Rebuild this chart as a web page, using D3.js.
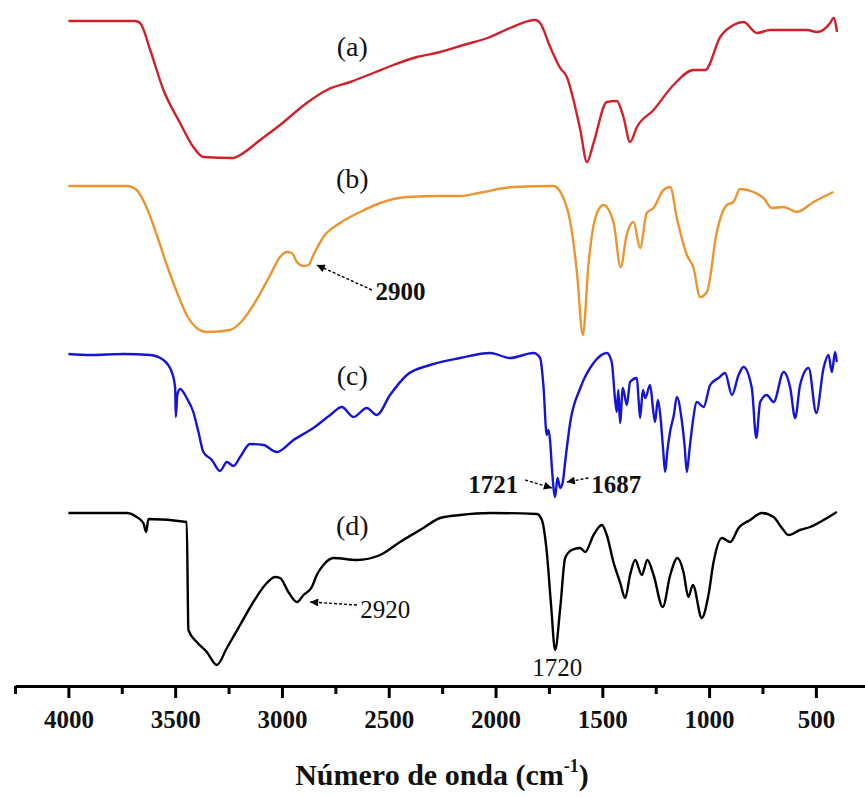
<!DOCTYPE html>
<html>
<head>
<meta charset="utf-8">
<script src="https://cdn.jsdelivr.net/npm/d3@7"></script>
<style>
  html, body { margin: 0; padding: 0; background: #fff; }
  svg { display: block; }
  text { font-family: "Liberation Serif", "Times New Roman", serif; }
</style>
</head>
<body>
<svg id="chart" width="865" height="797"></svg>
<script>
// ---- Data: [wavenumber (cm-1), transmittance (a.u., stacked offsets)] ----
const seriesA = [[4000,679],[3688,679],[3664,677],[3617,650],[3555,610],[3477,577],[3415,553],[3368,543],[3227,542],[3196,545],[3102,560],[3009,575],[2884,597],[2790,610],[2681,618],[2572,627],[2478,635],[2368,643],[2259,648],[2150,655],[2025,663],[1932,672],[1814,680],[1791,677],[1744,653],[1697,632],[1666,623],[1635,600],[1603,570],[1572,538],[1541,557],[1479,598],[1432,599],[1401,583],[1370,558],[1338,573],[1260,590],[1167,615],[1073,630],[1018,630],[948,663],[886,675],[839,678],[776,667],[714,670],[542,670],[495,668],[433,677],[417,682],[401,668]];

const seriesB = [[4000,514],[3727,514],[3680,510],[3633,492],[3586,465],[3539,435],[3492,408],[3446,385],[3399,372],[3352,368],[3243,370],[3196,377],[3134,395],[3055,425],[3009,443],[2977,448],[2954,447],[2930,438],[2899,434],[2876,435],[2853,445],[2806,463],[2728,477],[2634,488],[2540,497],[2415,503],[2259,504],[2166,504],[2057,508],[1916,513],[1729,514],[1682,502],[1650,478],[1619,428],[1591,365],[1565,435],[1533,482],[1495,495],[1448,478],[1414,433],[1386,465],[1354,478],[1323,452],[1292,487],[1260,492],[1214,510],[1182,513],[1151,482],[1104,445],[1073,432],[1042,403],[1010,408],[964,468],[917,495],[886,498],[855,511],[792,508],[745,502],[706,492],[652,493],[589,488],[511,498],[418,508]];

const seriesC = [[4000,346],[3898,345],[3742,346],[3617,345],[3555,340],[3516,328],[3500,312],[3497,283],[3490,305],[3477,311],[3446,302],[3415,288],[3391,268],[3368,248],[3328,240],[3290,229],[3258,238],[3227,234],[3196,243],[3149,256],[3087,255],[3024,248],[2946,260],[2853,272],[2774,285],[2720,293],[2665,283],[2603,292],[2556,285],[2494,305],[2415,325],[2306,335],[2166,342],[2025,347],[1932,342],[1822,347],[1791,342],[1776,315],[1760,265],[1752,270],[1744,258],[1736,232],[1721,203],[1710,222],[1697,212],[1685,218],[1674,238],[1650,278],[1603,312],[1541,337],[1479,347],[1456,338],[1440,300],[1432,288],[1425,310],[1417,277],[1404,312],[1385,295],[1370,318],[1338,322],[1330,300],[1323,282],[1310,310],[1299,302],[1276,315],[1262,290],[1253,278],[1240,300],[1230,288],[1215,250],[1206,228],[1195,250],[1183,268],[1165,285],[1151,303],[1127,278],[1115,255],[1104,228],[1092,250],[1080,272],[1057,298],[1026,293],[995,315],[956,322],[925,327],[893,305],[862,325],[839,333],[800,312],[779,262],[761,298],[730,305],[698,298],[651,328],[620,312],[597,282],[574,315],[534,332],[498,287],[464,332],[441,345],[425,328],[410,348],[402,338]];

const seriesD = [[4000,187],[3727,187],[3680,183],[3649,177],[3636,168],[3625,181],[3446,178],[3438,70],[3399,58],[3352,48],[3305,35],[3258,52],[3196,75],[3134,98],[3071,117],[3032,123],[3009,122],[2970,108],[2930,98],[2899,105],[2860,113],[2837,125],[2806,135],[2759,142],[2649,140],[2540,145],[2447,158],[2338,172],[2259,182],[2166,185],[2025,187],[1806,186],[1783,180],[1760,148],[1740,95],[1721,50],[1697,92],[1674,142],[1643,150],[1604,152],[1580,148],[1541,165],[1502,175],[1479,165],[1448,138],[1416,117],[1393,102],[1370,125],[1346,140],[1315,125],[1289,140],[1260,125],[1217,93],[1182,125],[1148,142],[1120,128],[1097,103],[1076,115],[1034,82],[1003,105],[979,138],[940,162],[901,158],[862,172],[808,180],[753,187],[698,183],[659,172],[628,165],[574,170],[527,173],[480,178],[402,188]];

const seriesNames = ["(a)", "(b)", "(c)", "(d)"];
const seriesColors = ["#d0202a", "#ec9430", "#1515d4", "#000000"];
const majorTicks = [4000, 3500, 3000, 2500, 2000, 1500, 1000, 500];
const minorTicks = [4250, 3750, 3250, 2750, 2250, 1750, 1250, 750];
const xTitle = "Número de onda (cm";
// series label anchor [wavenumber, value]
const labelPos = [[2671, 644], [2671, 512], [2671, 315], [2671, 165]];
// peak annotations: text, text pos, bold, arrow tail, arrow tip
const annotations = [
  { text: "2900", at: [2445, 400], bold: true,  tail: [2579, 410], tip: [2837, 435] },
  { text: "2920", at: [2634, 82],  bold: false, tail: [2649, 95],  tip: [2868, 98], anchor: "start" },
  { text: "1721", at: [2011, 207], bold: true,  tail: [1861, 220], tip: [1736, 212] },
  { text: "1687", at: [1435, 207], bold: true,  tail: [1565, 222], tip: [1666, 218] },
  { text: "1720", at: [1711, 24],  bold: false, tail: null, tip: null }
];

// ---- Drawing ----
const svg = d3.select("#chart");
const x = d3.scaleLinear().domain([4250, 270]).range([15, 865]);
const y = d3.scaleLinear().domain([0, 700]).range([700, 0]);
const axisY = 686;

svg.append("defs").append("marker")
  .attr("id", "arrow").attr("viewBox", "0 0 10 10")
  .attr("refX", 10).attr("refY", 5)
  .attr("markerUnits", "userSpaceOnUse")
  .attr("markerWidth", 11).attr("markerHeight", 8)
  .attr("orient", "auto")
  .append("path").attr("d", "M0,0 L10,5 L0,10 Z").attr("fill", "#000");

const line = d3.line()
  .x(d => x(d[0])).y(d => y(d[1]))
  .curve(d3.curveMonotoneX);

[seriesA, seriesB, seriesC, seriesD].forEach((s, i) => {
  svg.append("path")
    .datum(s)
    .attr("fill", "none")
    .attr("stroke", seriesColors[i])
    .attr("stroke-width", 2.4)
    .attr("stroke-linejoin", "round")
    .attr("d", line);
});

// series labels
seriesNames.forEach((n, i) => {
  svg.append("text")
    .attr("x", x(labelPos[i][0])).attr("y", y(labelPos[i][1]))
    .attr("text-anchor", "middle")
    .attr("font-size", 28)
    .attr("fill", "#111")
    .text(n);
});

// annotations
annotations.forEach(a => {
  if (a.tail) {
    svg.append("line")
      .attr("x1", x(a.tail[0])).attr("y1", y(a.tail[1]))
      .attr("x2", x(a.tip[0])).attr("y2", y(a.tip[1]))
      .attr("stroke", "#000").attr("stroke-width", 1.4)
      .attr("stroke-dasharray", "3,2")
      .attr("marker-end", "url(#arrow)");
  }
  svg.append("text")
    .attr("x", x(a.at[0])).attr("y", y(a.at[1]))
    .attr("text-anchor", a.anchor || "middle")
    .attr("font-size", 25)
    .attr("font-weight", a.bold ? "bold" : "normal")
    .attr("fill", "#111")
    .text(a.text);
});

// x axis
const axis = d3.axisBottom(x)
  .tickValues(majorTicks)
  .tickSize(12)
  .tickSizeOuter(0)
  .tickPadding(12)
  .tickFormat(d3.format("d"));
const gx = svg.append("g").attr("transform", `translate(0,${axisY})`).call(axis);
gx.select(".domain").attr("stroke", "#000").attr("stroke-width", 3);
gx.selectAll(".tick line").attr("stroke", "#000").attr("stroke-width", 3);
gx.selectAll(".tick text")
  .attr("font-family", "'Liberation Serif', serif")
  .attr("font-size", 25).attr("font-weight", "bold").attr("fill", "#111");

const gm = d3.axisBottom(x).tickValues(minorTicks).tickSize(8).tickSizeOuter(0).tickFormat("");
const gmin = svg.append("g").attr("transform", `translate(0,${axisY})`).call(gm);
gmin.select(".domain").remove();
gmin.selectAll(".tick line").attr("stroke", "#000").attr("stroke-width", 3);

// axis title
const title = svg.append("text")
  .attr("x", 442).attr("y", 785)
  .attr("text-anchor", "middle")
  .attr("font-size", 30).attr("font-weight", "bold").attr("fill", "#111");
title.append("tspan").text(xTitle);
title.append("tspan").attr("font-size", 18).attr("dy", -13).text("-1");
title.append("tspan").attr("dy", 13).text(")");
</script>
</body>
</html>
